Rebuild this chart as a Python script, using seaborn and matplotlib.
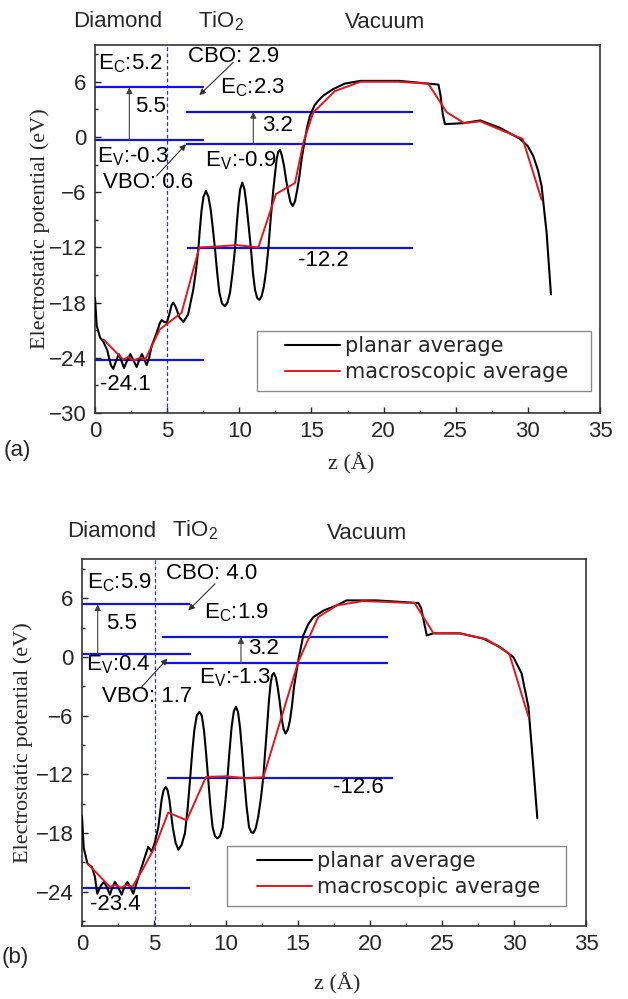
import numpy as np
import pandas as pd
import matplotlib
matplotlib.use('Agg')
import matplotlib.pyplot as plt
from matplotlib.ticker import MultipleLocator
from matplotlib.patches import Rectangle
import seaborn as sns

sns.set_style('ticks')
plt.rcParams['font.family'] = ['Liberation Sans', 'DejaVu Sans']
plt.rcParams['mathtext.default'] = 'regular'

# ---------------- Panel (a) data ----------------
za_planar = [0.0, 0.12, 0.35, 0.6, 0.85, 1.1, 1.27, 1.45, 1.65, 1.85, 2.01, 2.2, 2.45, 2.7, 2.89,
             3.05, 3.25, 3.45, 3.58, 3.75, 3.93, 4.27, 4.5, 4.62, 4.8, 4.97, 5.15, 5.3, 5.43, 5.6,
             5.85, 6.12, 6.45, 6.81, 7.0, 7.16, 7.28, 7.39, 7.52, 7.69, 7.86, 8.02, 8.17, 8.32,
             8.47, 8.62, 8.8, 9.0, 9.18, 9.36, 9.53, 9.7, 9.82, 9.93, 10.06, 10.21, 10.36, 10.51,
             10.65, 10.81, 10.95, 11.09, 11.24, 11.39, 11.55, 11.71, 11.86, 12.01, 12.18, 12.36,
             12.59, 12.7, 12.82, 12.95, 13.1, 13.25, 13.4, 13.55, 13.7, 13.86, 14.02, 14.18, 14.32,
             14.55, 14.72, 14.9, 15.2, 15.5, 15.82, 16.5, 17.3, 18.4, 21.1, 23.1, 23.8, 23.95,
             24.1, 24.25, 25.5, 26.7, 28.07, 29.45, 30.0, 30.37, 30.7, 30.95, 31.1, 31.3, 31.6]
va_planar = [-17.5, -20.5, -21.8, -22.3, -23.2, -24.8, -25.2, -24.4, -23.6, -24.4, -25.1, -24.4,
             -23.6, -24.4, -25.0, -24.3, -23.6, -24.3, -24.8, -24.0, -22.7, -21.3, -20.2, -19.9,
             -20.1, -20.2, -19.3, -18.3, -18.0, -18.5, -19.6, -20.1, -19.3, -16.6, -14.5, -12.2,
             -9.8, -7.9, -6.5, -5.87, -6.5, -7.9, -10.0, -12.2, -14.8, -16.9, -18.1, -18.4, -18.0,
             -16.9, -14.8, -12.2, -9.6, -7.5, -5.7, -4.95, -5.7, -7.5, -9.7, -12.2, -14.8, -16.6,
             -17.5, -17.7, -17.3, -16.2, -14.5, -12.2, -8.8, -5.7, -2.4, -1.6, -1.4, -2.0, -3.15,
             -4.7, -6.04, -7.1, -7.5, -7.0, -5.7, -4.1, -2.4, -0.24, 1.2, 2.3, 3.4, 4.0, 4.5, 5.2,
             5.8, 6.1, 6.1, 5.8, 5.7, 4.5, 2.5, 1.4, 1.5, 1.8, 1.0, -0.2, -1.0, -2.05, -3.6, -5.3,
             -7.5, -10.4, -17.1]
za_macro = [0.58, 1.96, 2.3, 2.7, 3.1, 3.47, 4.5, 6.0, 7.23, 8.5, 9.82, 11.32, 12.54, 13.86,
            14.44, 15.13, 16.63, 18.4, 21.0, 23.1, 24.37, 25.6, 26.7, 28.07, 29.64, 30.95]
va_macro = [-22.0, -24.2, -23.9, -24.3, -24.0, -24.2, -20.9, -19.1, -12.0, -11.9, -11.75, -12.0,
            -6.2, -5.0, -0.6, 2.67, 5.0, 6.0, 6.0, 5.8, 2.7, 1.5, 1.7, 0.8, -0.2, -6.8]
# band / core levels: value, start z, end z
a_levels = [5.39, -0.35, 2.73, -0.71, -12.03, -24.27]
a_lev_start = [0.0, 0.0, 6.3, 6.3, 6.35, 0.0]
a_lev_end = [7.55, 7.55, 22.06, 22.06, 22.06, 7.55]
a_interface = 5.0

# ---------------- Panel (b) data ----------------
zb_planar = [0.0, 0.12, 0.37, 0.7, 0.9, 1.06, 1.3, 1.53, 1.75, 1.94, 2.12, 2.29, 2.5, 2.75, 2.95,
             3.15, 3.35, 3.56, 3.75, 4.03, 4.375, 4.6, 4.84, 5.05, 5.3, 5.53, 5.67, 5.81, 5.94,
             6.07, 6.3, 6.5, 6.69, 6.92, 7.15, 7.33, 7.5, 7.65, 7.8, 7.97, 8.15, 8.32, 8.47, 8.62,
             8.77, 8.92, 9.07, 9.23, 9.4, 9.58, 9.77, 9.93, 10.09, 10.24, 10.39, 10.54, 10.69,
             10.83, 10.97, 11.12, 11.27, 11.43, 11.6, 11.75, 11.9, 12.07, 12.24, 12.42, 12.59,
             12.73, 12.87, 12.98, 13.1, 13.2, 13.33, 13.46, 13.59, 13.73, 13.87, 14.0, 14.14,
             14.3, 14.44, 14.58, 14.72, 15.02, 15.37, 15.7, 16.06, 16.8, 17.69, 18.38, 20.46,
             23.36, 23.55, 23.94, 24.4, 26.25, 27.87, 29.03, 29.95, 30.53, 31.0, 31.34, 31.62]
vb_planar = [-16.3, -19.5, -21.1, -21.5, -22.5, -24.2, -23.4, -23.0, -23.6, -24.3, -23.5, -23.0,
             -23.5, -24.3, -23.5, -23.0, -23.5, -24.2, -23.3, -22.0, -20.4, -19.4, -19.9, -19.0,
             -17.4, -14.6, -13.6, -13.3, -13.6, -14.6, -17.4, -19.0, -19.7, -19.2, -18.0, -15.6,
             -12.6, -9.8, -7.5, -6.0, -5.63, -6.0, -7.5, -9.9, -12.6, -15.3, -17.4, -18.3, -18.55,
             -18.3, -17.4, -15.2, -12.6, -9.7, -7.16, -5.6, -5.1, -5.6, -7.16, -9.7, -12.6, -15.3,
             -17.4, -17.9, -18.0, -17.5, -16.3, -14.5, -12.3, -9.5, -6.8, -4.5, -2.7, -1.9, -1.65,
             -2.1, -3.1, -4.6, -6.3, -7.4, -7.84, -7.4, -6.5, -5.0, -3.1, -0.36, 2.2, 3.3, 4.06,
             4.75, 5.26, 5.77, 5.77, 5.5, 5.0, 2.2, 2.4, 2.4, 1.86, 1.0, -0.02, -1.7, -5.1, -11.2,
             -16.5]
zb_macro = [0.37, 1.94, 2.3, 2.7, 3.1, 3.5, 4.26, 5.07, 5.99, 7.27, 8.61, 10.0, 11.4, 12.59,
            15.02, 16.4, 17.7, 19.5, 23.1, 24.4, 26.25, 28.1, 29.67, 31.0]
vb_macro = [-21.1, -23.5, -23.3, -23.6, -23.3, -23.5, -21.6, -19.4, -15.9, -16.7, -12.27, -12.2,
            -12.4, -12.3, -0.5, 4.06, 5.26, 5.7, 5.5, 2.43, 2.4, 1.8, 0.33, -6.1]
b_levels = [5.36, 0.26, 2.02, -0.6, -12.33, -23.65]
b_lev_start = [0.0, 0.0, 5.58, 5.76, 5.88, 0.0]
b_lev_end = [7.5, 7.55, 21.27, 21.27, 21.6, 7.5]
b_interface = 5.1

# text annotations: (text, z, V)
a_texts = [('E$_{C}$:5.2', 0.2, 7.31), ('5.5', 2.77, 2.67), ('E$_{V}$:-0.3', 0.12, -2.71),
           ('VBO: 0.6', 0.58, -5.5), ('CBO: 2.9', 6.47, 8.18), ('E$_{C}$:2.3', 8.66, 4.77),
           ('3.2', 11.55, 0.67), ('E$_{V}$:-0.9', 7.62, -3.15), ('-12.2', 14.07, -14.0),
           ('-24.1', 0.35, -27.5)]
b_texts = [('E$_{C}$:5.9', 0.37, 6.96), ('5.5', 1.67, 2.88), ('E$_{V}$:0.4', 0.28, -1.38),
           ('VBO: 1.7', 1.37, -4.61), ('CBO: 4.0', 5.81, 7.98), ('E$_{C}$:1.9', 8.47, 3.9),
           ('3.2', 11.55, 0.33), ('E$_{V}$:-1.3', 8.15, -2.73), ('-12.6', 17.4, -13.96),
           ('-23.4', 0.56, -25.87)]
# offset arrows: (z_from, V_from, z_to, V_to)
a_offset_arrows = [(9.58, 8.11, 7.23, 4.55), (4.27, -4.23, 6.31, -0.78)]
b_offset_arrows = [(9.24, 7.47, 7.38, 4.74), (4.14, -3.08, 5.93, -0.18)]
a_gap_z = [2.38, 10.97]
b_gap_z = [1.09, 11.04]

series_labels = ['planar average', 'macroscopic average']

BLUE = '#1414d8'
RED = '#e8141c'
FS = 16


def draw(ax, zp, vp, zm, vm, levels, ls, le, iface, texts, oarrows, gapz, ylim, yticks):
    dfp = pd.DataFrame({'z': zp, 'V': vp})
    dfm = pd.DataFrame({'z': zm, 'V': vm})
    ax.hlines(levels, ls, le, color=BLUE, lw=1.6, zorder=2)
    sns.lineplot(data=dfp, x='z', y='V', ax=ax, color='black', lw=1.5,
                 label=series_labels[0], sort=False, estimator=None, zorder=3)
    sns.lineplot(data=dfm, x='z', y='V', ax=ax, color=RED, lw=1.4,
                 label=series_labels[1], sort=False, estimator=None, zorder=4)
    ax.axvline(iface, color='#3030c8', ls=(0, (3, 2)), lw=0.9, zorder=1)
    ax.annotate('', xy=(gapz[0], levels[0]), xytext=(gapz[0], levels[1]),
                arrowprops=dict(arrowstyle='-|>', color='#404040', lw=0.8,
                                mutation_scale=9, shrinkA=0, shrinkB=0))
    ax.annotate('', xy=(gapz[1], levels[2]), xytext=(gapz[1], levels[3]),
                arrowprops=dict(arrowstyle='-|>', color='#404040', lw=0.8,
                                mutation_scale=9, shrinkA=0, shrinkB=0))
    for (z0, v0, z1, v1) in oarrows:
        ax.annotate('', xy=(z1, v1), xytext=(z0, v0),
                    arrowprops=dict(arrowstyle='-|>', color='#303030', lw=0.8,
                                    mutation_scale=9, shrinkA=0, shrinkB=0))
    for (t, z, v) in texts:
        ax.text(z, v, t, fontsize=FS, ha='left', va='baseline', color='black', zorder=5)
    ax.set_xlim(0, 35)
    ax.set_ylim(*ylim)
    ax.set_xticks(np.arange(0, 36, 5))
    ax.set_yticks(yticks)
    ax.xaxis.set_minor_locator(MultipleLocator(2.5))
    ax.yaxis.set_minor_locator(MultipleLocator(3))
    ax.tick_params(which='both', direction='in', labelsize=FS, width=1.0, color='#222222')
    ax.tick_params(which='major', length=4, pad=6)
    ax.tick_params(which='minor', length=2.5)
    for sp in ax.spines.values():
        sp.set_linewidth(1.2)
        sp.set_color('#333333')
    ax.set_xlabel('z (Å)', family='Liberation Serif', fontsize=FS)
    ax.set_ylabel('Electrostatic potential (eV)', family='Liberation Serif', fontsize=FS)


fig = plt.figure(figsize=(6.28, 9.99), dpi=100)
axA = fig.add_axes([95 / 628, 1 - 413 / 999, 505 / 628, 368 / 999])
axB = fig.add_axes([82 / 628, 1 - 926 / 999, 504 / 628, 367 / 999])

draw(axA, za_planar, va_planar, za_macro, va_macro, a_levels, a_lev_start, a_lev_end,
     a_interface, a_texts, a_offset_arrows, a_gap_z, (-30, 10), [6, 0, -6, -12, -18, -24, -30])
draw(axB, zb_planar, vb_planar, zb_macro, vb_macro, b_levels, b_lev_start, b_lev_end,
     b_interface, b_texts, b_offset_arrows, b_gap_z, (-27.5, 10), [6, 0, -6, -12, -18, -24])

axA.yaxis.set_label_coords(-0.089, 0.5)
axA.xaxis.set_label_coords(0.507, -0.109)
axB.yaxis.set_label_coords(-0.097, 0.5)
axB.xaxis.set_label_coords(0.506, -0.128)

# legend: frame box (px) and content anchor (px)
for ax, box, anchor in ((axA, (257, 331, 591, 391), (285, 336)),
                        (axB, (227, 846, 566, 906), (257, 851))):
    x0, y0, x1, y1 = box
    ax.add_patch(Rectangle((x0 / 628, 1 - y1 / 999), (x1 - x0) / 628, (y1 - y0) / 999,
                           transform=fig.transFigure, facecolor='white', edgecolor='#8a8a8a',
                           lw=1.0, zorder=6, clip_on=False))
    leg = ax.legend(loc='upper left', bbox_to_anchor=(anchor[0] / 628, 1 - anchor[1] / 999),
                    bbox_transform=fig.transFigure, prop={'family': 'DejaVu Sans', 'size': 15},
                    frameon=False, borderaxespad=0, borderpad=0, handlelength=2.65,
                    handletextpad=0.25, labelspacing=0.3)
    leg.set_zorder(7)

# region labels above the panels
for (t, x, y) in [('Diamond', 72.7, 27.3), ('TiO$_{2}$', 198.3, 27.3), ('Vacuum', 345, 28.3),
                  ('Diamond', 66.7, 536.7), ('TiO$_{2}$', 172.3, 536.7), ('Vacuum', 327.3, 539.3)]:
    fig.text(x / 628, 1 - y / 999, t, fontsize=FS, ha='left', va='baseline')

fig.text(4 / 628, 1 - 450 / 999, '(a)', fontsize=FS, ha='left', va='center')
fig.text(2 / 628, 1 - 957 / 999, '(b)', fontsize=FS, ha='left', va='center')

fig.savefig('out.png', dpi=100)
